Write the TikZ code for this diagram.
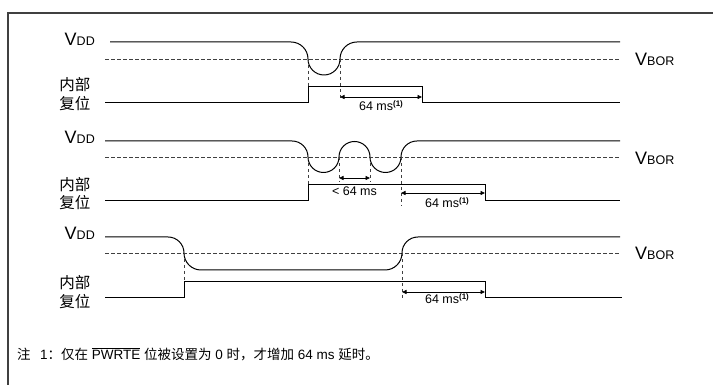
\documentclass[tikz,border=0pt]{standalone}
\usepackage{fontspec}
\setmainfont{Liberation Sans}
\newfontfamily\cjk{Noto Sans CJK SC}
\usetikzlibrary{arrows.meta}
\newcommand\VDDtxt{{\fontsize{18}{18}\selectfont V}{\fontsize{12.5}{12.5}\selectfont DD}}
\newcommand\VBORtxt{{\fontsize{18}{18}\selectfont V}{\fontsize{12.5}{12.5}\selectfont BOR}}
\newcommand\msone{64 ms\raisebox{4.5pt}{\fontsize{8}{8}\selectfont\bfseries (1)}}
\newcommand\myovl[1]{\setbox0\hbox{#1}\rlap{\rule[\dimexpr\ht0+1.6pt\relax]{\wd0}{0.9pt}}\box0\relax}
\begin{document}
\begin{tikzpicture}[x=1pt,y=1pt,
  frame/.style={line width=1.1pt, black!75},
  sig/.style={line width=1pt, black},
  thr/.style={line width=0.9pt, black!75, dash pattern=on 3.5pt off 2.5pt},
  guide/.style={line width=0.8pt, black!75, dash pattern=on 3.5pt off 2.5pt},
  dim/.style={line width=0.8pt, {Triangle[length=4.5pt,width=4pt]}-{Triangle[length=4.5pt,width=4pt]}},
  vlab/.style={anchor=base east, inner sep=0pt},
  blab/.style={anchor=base west, inner sep=0pt},
  cjklab/.style={font=\cjk\fontsize{15.5}{15.5}\selectfont, inner sep=0pt},
  tlab/.style={font=\fontsize{12.5}{12.5}\selectfont, anchor=base, inner sep=0pt},
  note/.style={font=\fontsize{13.5}{13.5}\selectfont, anchor=base west, inner sep=0pt}
]
\useasboundingbox (0,0) rectangle (713,385);
% frame
\coordinate (fTR) at (713,372);
\coordinate (fTL) at (8,372);
\coordinate (fBL) at (8,0);
\draw[frame] (fTR) -- (fTL) -- (fBL);

% ---------------- panel 1 ----------------
\node[vlab] (vdd1) at (95,339) {\VDDtxt};
\node[blab] (vbor1) at (635,319) {\VBORtxt};
\node[cjklab] (nb1) at (75,300) {内部};
\node[cjklab] (fw1) at (75,281) {复位};
\draw[thr] (105,326) -- (620,326);
\draw[sig] (110,343) -- (291,343) arc[start angle=90,end angle=0,radius=17]
  arc[start angle=180,end angle=360,radius=16]
  arc[start angle=180,end angle=90,radius=17] -- (620,343);
\draw[sig] (105,282) -- (308,282) -- (308,298) -- (422,298) -- (422,282) -- (620,282);
\coordinate (a1) at (308,326); \coordinate (a1b) at (308,298);
\draw[guide] (a1) -- (a1b);
\coordinate (b1) at (340,326); \coordinate (b1b) at (340,284);
\draw[guide] (b1) -- (b1b);
\coordinate (d1l) at (340,288); \coordinate (d1r) at (422,288);
\draw[dim] (d1l) -- (d1r);
\node[tlab] (t1) at (381,274) {\msone};

% ---------------- panel 2 ----------------
\node[vlab] (vdd2) at (95,241) {\VDDtxt};
\node[blab] (vbor2) at (635,220) {\VBORtxt};
\node[cjklab] (nb2) at (75,200) {内部};
\node[cjklab] (fw2) at (75,182) {复位};
\draw[thr] (105,228) -- (620,228);
\draw[sig] (105,244) -- (292,244) arc[start angle=90,end angle=0,radius=16]
  arc[start angle=180,end angle=360,radius=15.5]
  arc[start angle=180,end angle=0,radius=15.5]
  arc[start angle=180,end angle=360,radius=15.5]
  arc[start angle=180,end angle=90,radius=16] -- (620,244);
\draw[sig] (105,184) -- (308,184) -- (308,200) -- (485,200) -- (485,184) -- (620,184);
\coordinate (a2) at (308,228); \coordinate (a2b) at (308,200);
\draw[guide] (a2) -- (a2b);
\coordinate (b2) at (339,228); \coordinate (b2b) at (339,203);
\draw[guide] (b2) -- (b2b);
\coordinate (c2) at (370,228); \coordinate (c2b) at (370,203);
\draw[guide] (c2) -- (c2b);
\coordinate (e2) at (401,228); \coordinate (e2b) at (401,179);
\draw[guide] (e2) -- (e2b);
\coordinate (d2l) at (339,207); \coordinate (d2r) at (370,207);
\draw[dim] (d2l) -- (d2r);
\node[tlab] (t2a) at (354.5,189) {< 64 ms};
\coordinate (f2l) at (401,192); \coordinate (f2r) at (485,192);
\draw[dim] (f2l) -- (f2r);
\node[tlab] (t2b) at (447,177) {\msone};

% ---------------- panel 3 ----------------
\node[vlab] (vdd3) at (95,145) {\VDDtxt};
\node[blab] (vbor3) at (635,125) {\VBORtxt};
\node[cjklab] (nb3) at (75,102) {内部};
\node[cjklab] (fw3) at (75,83) {复位};
\draw[thr] (105,132) -- (620,132);
\draw[sig] (105,148) -- (168,148) arc[start angle=90,end angle=0,radius=16]
  arc[start angle=180,end angle=270,radius=17] -- (385,115)
  arc[start angle=270,end angle=360,radius=17]
  arc[start angle=180,end angle=90,radius=16] -- (620,148);
\draw[sig] (105,87) -- (184,87) -- (184,103) -- (485,103) -- (485,87) -- (622,87);
\coordinate (a3) at (184,132); \coordinate (a3b) at (184,103);
\draw[guide] (a3) -- (a3b);
\coordinate (e3) at (402,132); \coordinate (e3b) at (402,86);
\draw[guide] (e3) -- (e3b);
\coordinate (f3l) at (402,93); \coordinate (f3r) at (485,93);
\draw[dim] (f3l) -- (f3r);
\node[tlab] (t3) at (447,81) {\msone};

% ---------------- note ----------------
\node[note, font=\cjk\fontsize{13.5}{13.5}\selectfont] (zhu) at (17,25) {注};
\node[note] (notetxt) at (40,25) {1{\cjk ：仅在} \myovl{PWRTE} {\cjk 位被设置为} 0 {\cjk 时，才增加} 64 ms {\cjk 延时。}};
\end{tikzpicture}
\end{document}
